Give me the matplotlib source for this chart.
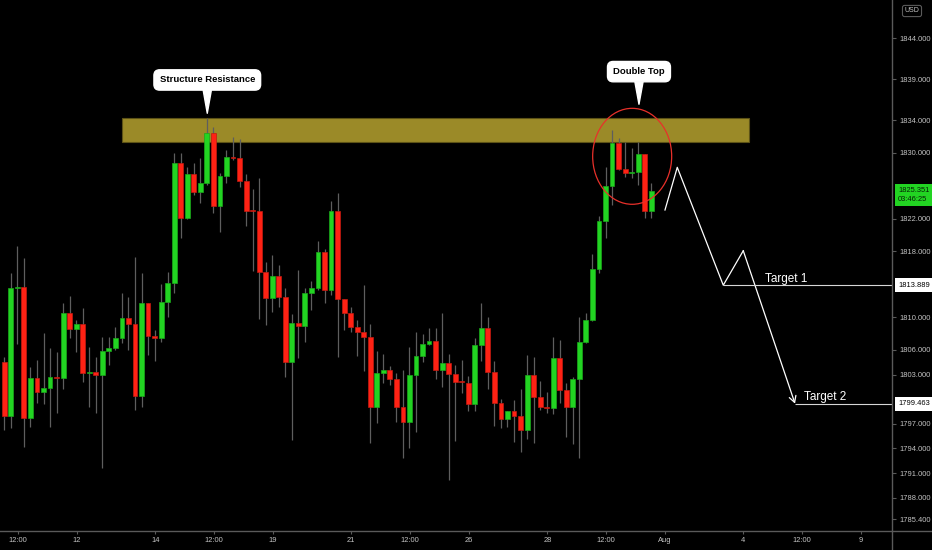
import matplotlib
matplotlib.use("Agg")
import matplotlib.pyplot as plt
import matplotlib.transforms as mtransforms
from matplotlib.patches import Rectangle, Ellipse
from matplotlib.lines import Line2D
import numpy as np

plt.rcParams['font.family'] = ['Liberation Sans', 'DejaVu Sans']

# XAUUSD 4h candles
opens = [1804.57, 1798.00, 1813.59, 1813.71, 1797.68, 1802.55, 1800.85, 1801.33, 1802.71, 1802.62,
         1810.47, 1808.56, 1809.13, 1803.16, 1803.36, 1802.95, 1805.84, 1806.21, 1807.42, 1809.86,
         1809.13, 1800.43, 1811.69, 1807.74, 1807.50, 1811.88, 1814.12, 1828.74, 1822.04, 1827.44,
         1825.21, 1826.38, 1832.39, 1823.58, 1827.19, 1829.54, 1829.42, 1826.58, 1823.05, 1822.97,
         1815.46, 1812.37, 1815.01, 1812.49, 1804.50, 1809.25, 1808.96, 1812.90, 1813.51, 1817.97,
         1813.31, 1822.97, 1812.17, 1810.47, 1808.84, 1808.16, 1807.58, 1799.02, 1803.16, 1803.53,
         1802.47, 1799.09, 1797.19, 1802.95, 1805.27, 1806.73, 1807.10, 1803.53, 1804.42, 1803.04,
         1802.22, 1802.02, 1799.46, 1806.57, 1808.72, 1803.36, 1799.51, 1797.56, 1798.61, 1798.00,
         1796.25, 1802.95, 1800.24, 1799.02, 1798.90, 1805.06, 1801.13, 1799.02, 1802.47, 1806.97,
         1809.65, 1815.86, 1821.71, 1825.97, 1831.25, 1828.05, 1827.59, 1827.72, 1829.84, 1822.97]
highs = [1805.18, 1815.41, 1818.67, 1817.17, 1803.96, 1804.78, 1808.03, 1806.21, 1805.79, 1811.76,
         1812.58, 1809.65, 1811.08, 1806.33, 1805.18, 1807.62, 1807.62, 1808.76, 1812.90, 1812.49,
         1817.36, 1815.41, 1811.72, 1808.44, 1814.04, 1815.54, 1829.96, 1829.96, 1828.33, 1828.74,
         1829.35, 1834.22, 1833.20, 1827.52, 1830.36, 1831.98, 1831.66, 1827.40, 1825.61, 1826.91,
         1816.75, 1817.57, 1816.35, 1813.51, 1810.38, 1815.74, 1813.51, 1814.44, 1819.31, 1818.26,
         1824.18, 1825.16, 1812.17, 1811.27, 1809.65, 1813.92, 1809.13, 1805.91, 1805.51, 1804.05,
         1803.16, 1803.56, 1806.40, 1808.16, 1807.95, 1808.64, 1808.64, 1810.47, 1805.48, 1804.17,
         1804.78, 1802.87, 1807.50, 1811.69, 1810.06, 1804.70, 1800.03, 1798.57, 1799.91, 1801.29,
         1805.39, 1805.11, 1802.26, 1800.88, 1807.62, 1807.22, 1801.94, 1802.67, 1810.02, 1810.54,
         1817.66, 1822.32, 1828.25, 1832.80, 1831.86, 1831.37, 1830.57, 1831.37, 1829.84, 1826.30]
lows = [1796.25, 1796.46, 1806.69, 1794.15, 1796.66, 1799.51, 1799.42, 1796.66, 1798.36, 1801.21,
        1807.42, 1805.72, 1802.06, 1799.02, 1798.36, 1791.59, 1804.17, 1806.00, 1806.89, 1806.00,
        1798.69, 1799.02, 1805.39, 1804.66, 1807.01, 1809.98, 1812.90, 1819.60, 1821.90, 1824.88,
        1823.87, 1826.10, 1822.65, 1820.41, 1826.30, 1829.14, 1825.89, 1821.10, 1815.66, 1809.78,
        1809.04, 1810.59, 1811.27, 1802.67, 1795.04, 1804.99, 1807.01, 1810.87, 1813.31, 1811.76,
        1812.70, 1805.18, 1808.44, 1808.23, 1805.31, 1803.48, 1794.63, 1797.07, 1801.94, 1801.74,
        1797.27, 1792.81, 1794.03, 1795.97, 1804.50, 1806.60, 1802.43, 1801.46, 1790.16, 1794.92,
        1800.80, 1798.61, 1798.61, 1804.70, 1801.25, 1796.74, 1796.46, 1796.66, 1794.83, 1793.61,
        1795.12, 1794.63, 1798.69, 1798.29, 1798.20, 1799.51, 1795.37, 1794.55, 1792.81, 1806.80,
        1809.50, 1815.34, 1819.68, 1823.66, 1827.90, 1827.11, 1826.91, 1826.10, 1822.04, 1822.04]
closes = [1798.00, 1813.59, 1813.71, 1797.68, 1802.55, 1800.85, 1801.33, 1802.71, 1802.59, 1810.47,
          1808.56, 1809.13, 1803.16, 1803.32, 1802.95, 1805.84, 1806.21, 1807.42, 1809.86, 1809.13,
          1800.43, 1811.69, 1807.74, 1807.50, 1811.88, 1814.12, 1828.74, 1822.04, 1827.44, 1825.21,
          1826.38, 1832.39, 1823.58, 1827.19, 1829.54, 1829.42, 1826.58, 1822.97, 1822.97, 1815.46,
          1812.37, 1815.01, 1812.49, 1804.50, 1809.25, 1808.96, 1812.90, 1813.51, 1817.97, 1813.31,
          1822.97, 1812.17, 1810.47, 1808.84, 1808.23, 1807.62, 1799.02, 1803.20, 1803.53, 1802.47,
          1799.09, 1797.19, 1802.95, 1805.27, 1806.73, 1807.10, 1803.53, 1804.42, 1803.04, 1802.14,
          1802.06, 1799.46, 1806.57, 1808.72, 1803.36, 1799.51, 1797.56, 1798.57, 1798.00, 1796.25,
          1802.95, 1800.24, 1799.02, 1798.90, 1805.06, 1801.13, 1799.02, 1802.47, 1806.97, 1809.65,
          1815.86, 1821.71, 1825.97, 1831.25, 1828.05, 1827.59, 1827.72, 1829.84, 1822.97, 1825.35]

# time axis (bar index positions of the date labels)
time_ticks = [2.1, 11.1, 23.1, 32.1, 41.1, 53.1, 62.1, 71.1, 83.1, 92.1, 101.1, 113.1, 122.1, 131.1]
time_labels = ['12:00', '12', '14', '12:00', '19', '21', '12:00', '26', '28', '12:00', 'Aug', '4', '12:00', '9']
# scale labels that are not hidden behind the price tags
price_ticks = [1844, 1839, 1834, 1830, 1822, 1818, 1810, 1806, 1803,
               1797, 1794, 1791, 1788, 1785.4]

zone_low, zone_high = 1831.30, 1834.29
zone_start, zone_end = 18.06, 114.0
target1 = 1813.889
target2 = 1799.463
last_price = 1825.351
countdown = '03:46:25'
# projected path drawn after the double top
proj_x = [101.10, 102.98, 110.02, 113.08, 121.0]
proj_y = [1823.05, 1828.25, target1, 1818.09, target2]

GREEN = '#22d422'
RED = '#ff2214'
GREY = '#5a5a5a'
TXT = '#c4c4c4'

o = np.array(opens)
c = np.array(closes)
x = np.arange(len(o))
up = c >= o

fig = plt.figure(figsize=(9.32, 5.5), dpi=100, facecolor='black')
ax = fig.add_axes([0, 19 / 550, 892 / 932, 531 / 550], facecolor='black')
ax.set_xlim(-0.658, 135.84)
ax.set_ylim(1783.95, 1848.63)

# resistance zone
ax.add_patch(Rectangle((zone_start, zone_low), zone_end - zone_start, zone_high - zone_low,
                       fc='#9b8a28', ec='#5c5216', lw=0.8, zorder=1))

# candles
ax.vlines(x, lows, highs, color='#5e5e5e', lw=0.9, zorder=2)
body = np.maximum(np.abs(c - o), 0.12)
ax.bar(x, body, bottom=np.minimum(o, c), width=0.74,
       color=np.where(up, GREEN, RED), edgecolor=np.where(up, '#1aa81a', '#c41a10'),
       linewidth=0.5, zorder=3)

# double top circle
ax.add_patch(Ellipse((96.08, 1829.59), 12.09, 11.69, fill=False, ec='#e8302a', lw=0.9, zorder=4))

# projection and targets
ax.plot(proj_x[:-1], proj_y[:-1], color='white', lw=0.9, zorder=4)
ax.annotate('', xy=(proj_x[-1], proj_y[-1]), xytext=(proj_x[-2], proj_y[-2]),
            arrowprops=dict(arrowstyle='->,head_length=0.45,head_width=0.25', color='white',
                            lw=0.9, shrinkA=0, shrinkB=0), zorder=4)
xmax = ax.get_xlim()[1]
ax.hlines([target1, target2], [proj_x[2], proj_x[4]], xmax, color='#d6d6d6', lw=0.8, zorder=4)
ax.text(116.4, target1 + 0.05, 'Target 1', color='white', fontsize=8.5, va='bottom', ha='left')
ax.text(122.4, target2 + 0.05, 'Target 2', color='white', fontsize=8.5, va='bottom', ha='left')

# callouts
box = dict(boxstyle='round,pad=0.6,rounding_size=0.6', fc='white', ec='white')
wedge = dict(arrowstyle='wedge,tail_width=0.85', fc='white', ec='white', shrinkA=0, shrinkB=0)
ax.annotate('Structure Resistance', xy=(31.06, 1834.83), xytext=(0, 24), textcoords='offset points',
            ha='center', va='center', fontsize=6.8, fontweight='bold', color='black',
            bbox=box, arrowprops=wedge, zorder=5)
ax.annotate('Double Top', xy=(97.12, 1835.93), xytext=(0, 23.5), textcoords='offset points',
            ha='center', va='center', fontsize=6.8, fontweight='bold', color='black',
            bbox=box, arrowprops=wedge, zorder=5)

# axes styling
for s in ax.spines.values():
    s.set_visible(False)
ax.yaxis.tick_right()
ax.set_yticks(price_ticks)
ax.set_yticklabels(['%.3f' % p for p in price_ticks])
ax.set_xticks(time_ticks)
ax.set_xticklabels(time_labels)
ax.tick_params(axis='y', direction='out', length=3, width=0.8, color=GREY,
               labelcolor=TXT, labelsize=5.4, pad=2.5)
ax.tick_params(axis='x', direction='out', length=2.5, width=0.8, color=GREY,
               labelcolor=TXT, labelsize=5.4, pad=1.5)
fig.add_artist(Line2D([892 / 932, 892 / 932], [0, 1], color=GREY, lw=1))
fig.add_artist(Line2D([0, 1], [19 / 550, 19 / 550], color=GREY, lw=1))

# price labels on the scale
trans = mtransforms.blended_transform_factory(ax.transAxes, ax.transData)
for p in [target1, target2]:
    ax.text(1.0 + 6 / 892, p, '%.3f' % p, transform=trans, fontsize=5.4, color='black',
            va='center', ha='left', clip_on=False, zorder=6,
            bbox=dict(boxstyle='square,pad=0.45', fc='white', ec='none'))
ax.text(1.0 + 6 / 892, last_price - 0.45, '%.3f\n%s' % (last_price, countdown), transform=trans,
        fontsize=5.4, color='#062006', va='center', ha='left', linespacing=1.35,
        clip_on=False, zorder=6, bbox=dict(boxstyle='square,pad=0.45', fc=GREEN, ec='none'))
fig.text(912 / 932, 1 - 11 / 550, 'USD', ha='center', va='center', fontsize=5, color=TXT,
         bbox=dict(boxstyle='round,pad=0.3', fc='black', ec=GREY, lw=0.8))

fig.savefig('out.png', dpi=100, facecolor='black')
